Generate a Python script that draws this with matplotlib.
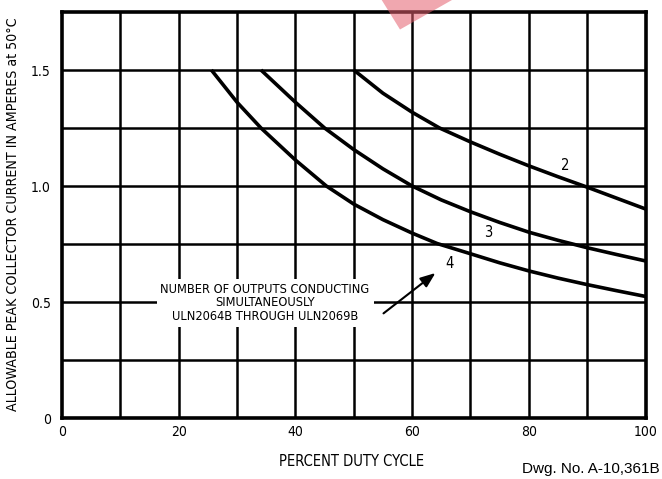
import matplotlib
matplotlib.use("Agg")
import matplotlib.pyplot as plt
from matplotlib import font_manager
from matplotlib.patches import Polygon

# ---- data ----
x_ticks = [0, 20, 40, 60, 80, 100]
y_ticks = [0, 0.5, 1.0, 1.5]
y_tick_labels = ["0", "0.5", "1.0", "1.5"]

x2 = [50, 55, 60, 64.7, 70, 75, 80, 85, 90, 95, 100]
y2 = [1.50, 1.40, 1.318, 1.25, 1.19, 1.137, 1.087, 1.04, 0.995, 0.948, 0.901]

x3 = [34.1, 40, 45, 50, 55, 60, 65, 70, 75, 80, 85, 90, 95, 100]
y3 = [1.50, 1.361, 1.25, 1.157, 1.074, 1.0, 0.94, 0.889, 0.843, 0.801, 0.766, 0.734, 0.705, 0.677]

x4 = [25.6, 30, 34.1, 40, 45.3, 50, 55, 60, 64.3, 70, 75, 80, 85, 90, 95, 100]
y4 = [1.50, 1.361, 1.25, 1.112, 1.0, 0.922, 0.855, 0.797, 0.752, 0.708, 0.669, 0.634, 0.603, 0.575, 0.549, 0.524]

series_labels = ["2", "3", "4"]
label_pos = [(86.3, 1.09), (73.1, 0.80), (66.4, 0.665)]

# ---- fonts ----
COND = dict(family="DejaVu Sans", stretch="condensed")
names = {f.name for f in font_manager.fontManager.ttflist}
reg = "Liberation Sans" if "Liberation Sans" in names else "DejaVu Sans"

fig = plt.figure(figsize=(6.62, 4.79), dpi=100)
ax = fig.add_axes([62/662, 1 - 418/479, (645.5 - 62)/662, (418 - 12)/479])

ax.set_xlim(0, 100)
ax.set_ylim(0, 1.75)

# grid
for gx in range(10, 100, 10):
    ax.axvline(gx, color="black", lw=1.8, zorder=1)
for gy in [0.25, 0.5, 0.75, 1.0, 1.25, 1.5]:
    ax.axhline(gy, color="black", lw=1.8, zorder=1)

for sp in ax.spines.values():
    sp.set_linewidth(2.6)
    sp.set_color("black")

for xs, ys in [(x2, y2), (x3, y3), (x4, y4)]:
    ax.plot(xs, ys, color="black", lw=2.6, zorder=3, solid_capstyle="butt",
            solid_joinstyle="round")

for lab, (lx, ly) in zip(series_labels, label_pos):
    ax.text(lx, ly, lab, fontsize=10.5, ha="center", va="center", zorder=4, **COND)

ax.set_xticks(x_ticks)
ax.set_yticks(y_ticks)
ax.set_yticklabels(y_tick_labels)
ax.tick_params(length=0, labelsize=10)
ax.tick_params(axis="x", pad=5)
ax.tick_params(axis="y", pad=8)
for t in ax.get_xticklabels() + ax.get_yticklabels():
    t.set_family("DejaVu Sans")
    t.set_stretch("condensed")

# annotation box
ax.text(34.8, 0.496, "NUMBER OF OUTPUTS CONDUCTING\nSIMULTANEOUSLY\nULN2064B THROUGH ULN2069B",
        fontsize=9.2, ha="center", va="center", linespacing=1.05, zorder=5,
        bbox=dict(boxstyle="square,pad=0.3", fc="white", ec="none"), **COND)
ax.annotate("", xy=(64.0, 0.625), xytext=(55.1, 0.451),
            arrowprops=dict(arrowstyle="-|>,head_length=0.9,head_width=0.35",
                            color="black", lw=1.5, shrinkA=0, shrinkB=0), zorder=6)

fig.text(352/662, 1 - 461/479, "PERCENT DUTY CYCLE", fontsize=10.5,
         ha="center", va="center", **COND)
fig.text(13/662, 1 - 214/479, "ALLOWABLE PEAK COLLECTOR CURRENT IN AMPERES at 50°C",
         fontsize=10.2, rotation=90, ha="center", va="center", **COND)

fig.text(660/662, 1 - 469/479, "Dwg. No. A-10,361B", fontsize=11, family=reg,
         ha="right", va="center")

# red watermark mark at top
tri = Polygon([[381.7/662, 1.0], [400/662, 1 - 29.5/479], [452/662, 1.0]],
              closed=True, transform=fig.transFigure, facecolor="#e4606e",
              alpha=0.55, edgecolor="none", zorder=10)
fig.patches.append(tri)

fig.savefig("out.png", dpi=100)
